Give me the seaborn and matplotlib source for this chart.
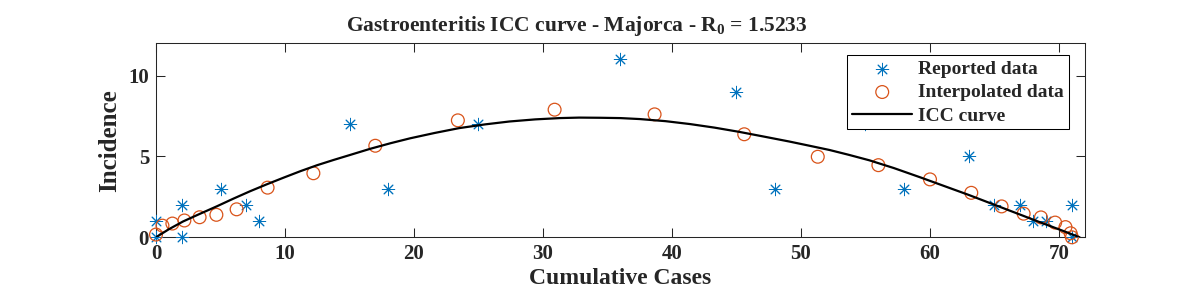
import pandas as pd
import matplotlib
matplotlib.use('Agg')
import matplotlib.pyplot as plt
import seaborn as sns

# Reported data (cumulative cases vs incidence)
rep_cases = [0, 0, 2, 2, 5, 7, 8, 15, 18, 25, 36, 45, 48, 55, 58, 63, 65, 67, 68, 69, 71, 71]
rep_incidence = [1, 0, 2, 0, 3, 2, 1, 7, 3, 7, 11, 9, 3, 7, 3, 5, 2, 2, 1, 1, 2, 0]

# Interpolated data
int_cases = [0, 0.5, 1.27, 2.2, 3.38, 4.68, 6.25, 8.65, 12.2, 17.0, 23.4, 30.9, 38.65,
             45.6, 51.3, 56.0, 60.0, 63.2, 65.55, 67.26, 68.6, 69.7, 70.5, 70.9, 71.0]
int_incidence = [0.17, 0.72, 0.85, 1.04, 1.24, 1.39, 1.73, 3.07, 3.96, 5.66, 7.23, 7.89, 7.6,
                 6.37, 4.98, 4.46, 3.58, 2.75, 1.91, 1.46, 1.23, 0.91, 0.63, 0.25, 0.0]

# ICC curve
icc_cases = [0, 1.0, 2.1, 3.4, 4.7, 6.0, 7.3, 8.6, 9.9, 11.2, 12.5, 13.8, 15.0, 16.6,
             18.2, 19.7, 21.6, 23.5, 25.5, 27.4, 29.4, 31.3, 32.8, 34.4, 36.0, 37.5,
             39.5, 41.4, 43.3, 45.2, 47.1, 49.1, 50.6, 52.2, 53.7, 55.3, 57.2, 59.2,
             61.1, 63.0, 64.9, 66.9, 68.2, 69.5, 70.6, 71.6]
icc_incidence = [0, 0.5, 0.98, 1.45, 1.91, 2.39, 2.85, 3.28, 3.69, 4.09, 4.46, 4.79, 5.08,
                 5.47, 5.82, 6.12, 6.45, 6.75, 6.98, 7.16, 7.29, 7.37, 7.40, 7.39, 7.37,
                 7.31, 7.18, 7.00, 6.78, 6.52, 6.23, 5.92, 5.67, 5.40, 5.10, 4.76, 4.28,
                 3.72, 3.17, 2.62, 2.04, 1.43, 1.03, 0.64, 0.31, 0.0]

rep = pd.DataFrame({'C': rep_cases, 'I': rep_incidence})
interp = pd.DataFrame({'C': int_cases, 'I': int_incidence})
icc = pd.DataFrame({'C': icc_cases, 'I': icc_incidence})

sns.set_style('ticks')
plt.rcParams['font.family'] = ['Liberation Serif', 'DejaVu Serif']
plt.rcParams['font.weight'] = 'bold'
plt.rcParams['axes.labelweight'] = 'bold'
plt.rcParams['axes.titleweight'] = 'bold'
plt.rcParams['mathtext.fontset'] = 'custom'
plt.rcParams['mathtext.rm'] = 'Liberation Serif:bold'
plt.rcParams['mathtext.default'] = 'rm'

blue = '#0072BD'
orange = '#D95319'

fig = plt.figure(figsize=(12, 3), dpi=100)
ax = fig.add_axes([0.13, 0.209, 0.774, 0.647])

sns.scatterplot(data=rep, x='C', y='I', ax=ax, marker=(8, 2, 0), s=80,
                color=blue, edgecolor=blue, linewidth=0.7, label='Reported data',
                zorder=3, clip_on=False)
sns.scatterplot(data=interp, x='C', y='I', ax=ax, marker='o', s=85,
                facecolor='none', edgecolor=orange, linewidth=0.9,
                label='Interpolated data', zorder=3, clip_on=False)
sns.lineplot(data=icc, x='C', y='I', ax=ax, color='black', linewidth=1.6,
             estimator=None, label='ICC curve', zorder=4)

ax.set_xlim(0, 72)
ax.set_ylim(0, 12)
ax.set_xticks(range(0, 71, 10))
ax.set_yticks([0, 5, 10])
ax.tick_params(direction='in', top=True, right=True, length=6.7, width=0.75,
               labelsize=15, pad=5, colors='#262626')
for sp in ax.spines.values():
    sp.set_visible(True)
    sp.set_linewidth(0.75)
    sp.set_color('#262626')

ax.set_xlabel('Cumulative Cases', fontsize=17, labelpad=3)
ax.set_ylabel('Incidence', fontsize=18, labelpad=5)
ax.set_title(r'Gastroenteritis ICC curve - Majorca - R$_{0}$ = 1.5233',
             fontsize=15.5, x=0.453, pad=9)

leg = ax.legend(loc='upper right', bbox_to_anchor=(1 - 16 / 929, 1 - 12 / 194),
                borderaxespad=0, fancybox=False, framealpha=1, edgecolor='black',
                fontsize=14, handlelength=3.1, handletextpad=0.3, labelspacing=0.3,
                borderpad=0.25)
leg.get_frame().set_linewidth(0.75)

fig.savefig('out.png', dpi=100)
